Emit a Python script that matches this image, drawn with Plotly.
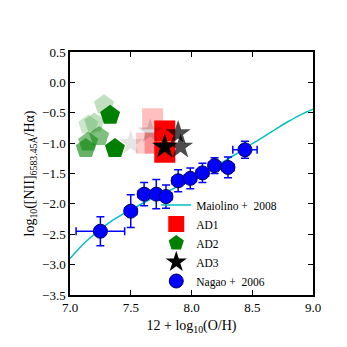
import plotly.graph_objects as go

# Maiolino + 2008 calibration curve
mai_x = [7.0, 7.1, 7.2, 7.3, 7.4, 7.5, 7.6, 7.7, 7.8, 7.9, 8.0, 8.1, 8.2, 8.3, 8.4, 8.5, 8.6, 8.7, 8.8, 8.9, 9.0]
mai_y = [-2.90, -2.68, -2.50, -2.34, -2.21, -2.10, -1.99, -1.89, -1.80, -1.70, -1.60, -1.49, -1.38, -1.26, -1.14, -1.01, -0.89, -0.76, -0.64, -0.53, -0.44]

# AD1 (red squares)
ad1_x = [7.68, 7.63, 7.70, 7.78, 7.78]
ad1_y = [-0.60, -1.00, -1.00, -0.80, -1.15]
ad1_a = [0.25, 0.2, 0.3, 1.0, 1.0]

# AD2 (green pentagons)
ad2_x = [7.28, 7.20, 7.15, 7.24, 7.15, 7.13, 7.33, 7.37]
ad2_y = [-0.37, -0.67, -0.70, -0.89, -0.98, -1.09, -0.54, -1.09]
ad2_a = [0.25, 0.25, 0.2, 0.5, 0.5, 0.6, 1.0, 1.0]

# AD3 (black stars)
ad3_x = [7.50, 7.66, 7.89, 7.91, 7.78]
ad3_y = [-1.00, -0.81, -0.84, -1.06, -1.06]
ad3_a = [0.1, 0.15, 0.7, 0.7, 1.0]

# Nagao + 2006
nag_x = [7.25, 7.50, 7.61, 7.71, 7.79, 7.89, 7.99, 8.09, 8.19, 8.30, 8.44]
nag_y = [-2.45, -2.12, -1.84, -1.84, -1.88, -1.62, -1.58, -1.49, -1.37, -1.40, -1.11]
nag_xerr = [0.20, 0.05, 0.05, 0.05, 0.05, 0.05, 0.05, 0.05, 0.05, 0.05, 0.10]
nag_yerr = [0.24, 0.27, 0.19, 0.24, 0.19, 0.18, 0.17, 0.16, 0.13, 0.17, 0.14]

x_ticks = [7.0, 7.5, 8.0, 8.5, 9.0]
y_ticks = [0.5, 0.0, -0.5, -1.0, -1.5, -2.0, -2.5, -3.0, -3.5]

FONT = "Liberation Serif"


def rgba(rgb, a):
    return "rgba(%d,%d,%d,%.2f)" % (rgb[0], rgb[1], rgb[2], a)


def split(xs, ys, al):
    faint = [(x, y, a) for x, y, a in zip(xs, ys, al) if a < 0.99]
    solid = [(x, y) for x, y, a in zip(xs, ys, al) if a >= 0.99]
    return faint, solid


fig = go.Figure()

fig.add_trace(go.Scatter(x=mai_x, y=mai_y, mode="lines", line=dict(color="#00bfbf", width=1.5, shape="spline"),
                         name="Maiolino +  2008"))

groups = [
    ("AD1", ad1_x, ad1_y, ad1_a, (255, 0, 0), "square", 21),
    ("AD2", ad2_x, ad2_y, ad2_a, (0, 128, 0), "pentagon", 21),
    ("AD3", ad3_x, ad3_y, ad3_a, (0, 0, 0), "star", 19),
]
for name, xs, ys, al, rgb, sym, sz in groups:
    faint, solid = split(xs, ys, al)
    fig.add_trace(go.Scatter(x=[f[0] for f in faint], y=[f[1] for f in faint], mode="markers",
                             marker=dict(symbol=sym, size=sz, color=[rgba(rgb, f[2]) for f in faint],
                                         line=dict(width=0)),
                             showlegend=False, hoverinfo="skip"))
    fig.add_trace(go.Scatter(x=[s[0] for s in solid], y=[s[1] for s in solid], mode="markers",
                             marker=dict(symbol=sym, size=sz, color=rgba(rgb, 1.0), line=dict(width=0)),
                             name=name))

fig.add_trace(go.Scatter(x=nag_x, y=nag_y, mode="markers",
                         marker=dict(symbol="circle", size=14, color="#0000ff", line=dict(color="#000066", width=1)),
                         error_x=dict(type="data", array=nag_xerr, color="#0000ff", thickness=1.5, width=4),
                         error_y=dict(type="data", array=nag_yerr, color="#0000ff", thickness=1.5, width=4),
                         name="Nagao +  2006"))

axis_common = dict(showgrid=False, zeroline=False, showline=True, linecolor="black", linewidth=1.5,
                   mirror="ticks", ticks="inside", ticklen=5, tickwidth=1, tickcolor="black",
                   tickfont=dict(family=FONT, size=13, color="black"), tickformat=".1f")

fig.update_xaxes(range=[7.0, 9.0], tickvals=x_ticks,
                 title=dict(text="12 + log<sub>10</sub>(O/H)", font=dict(family=FONT, size=14, color="black"),
                            standoff=6),
                 **axis_common)
fig.update_yaxes(range=[-3.5, 0.5], tickvals=y_ticks,
                 title=dict(text="log<sub>10</sub>([NII]<sub>6583.45Å</sub>/Hα)",
                            font=dict(family=FONT, size=14, color="black"), standoff=4),
                 **axis_common)

fig.update_layout(
    width=347, height=347,
    margin=dict(l=70, r=34, t=52, b=52),
    plot_bgcolor="white", paper_bgcolor="white",
    legend=dict(x=0.355, y=0.43, xanchor="left", yanchor="top", bgcolor="rgba(0,0,0,0)",
                font=dict(family=FONT, size=11.5, color="black"), tracegroupgap=0),
)

fig.write_html("out.html")
